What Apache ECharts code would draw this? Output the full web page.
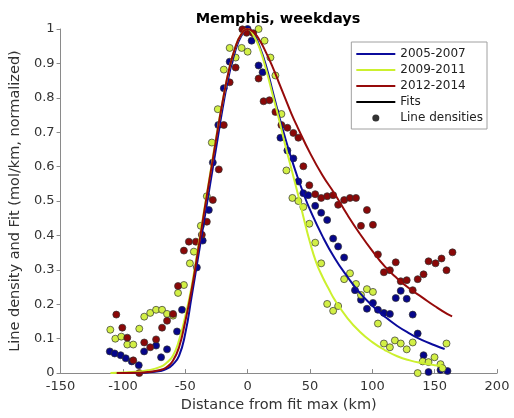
<!DOCTYPE html>
<html><head><meta charset="utf-8">
<script src="https://cdn.jsdelivr.net/npm/echarts@6/dist/echarts.min.js"></script>
<style>html,body{margin:0;padding:0;background:#fff}#c{width:514px;height:418px}</style>
</head><body><div id="c"></div>
<script>
// ---- data ----
const seriesNames = ['2005-2007', '2009-2011', '2012-2014'];

// line densities (distance km, normalized density)
const dens0507 = [[0,1.0],[3.2,0.966],[-14.4,0.905],[-19.1,0.828],[8.8,0.894],[12,0.874],[-23.5,0.721],[-27.9,0.612],[-31.1,0.474],[-36,0.385],[-40.7,0.307],[-52.6,0.184],[-56.6,0.121],[-64.6,0.069],[-69.4,0.046],[-73.4,0.08],[-83,0.063],[-110.5,0.063],[-106.6,0.057],[-101.8,0.052],[-97.7,0.043],[-92.9,0.034],[-87.3,0.023],[26.3,0.684],[31.9,0.647],[36.7,0.624],[40.7,0.557],[44.7,0.523],[48.6,0.517],[54.2,0.486],[59,0.466],[63.8,0.445],[68.6,0.391],[72.6,0.368],[77.4,0.336],[86.1,0.241],[90.9,0.213],[95.7,0.187],[100.5,0.204],[104.5,0.184],[109.3,0.175],[114.1,0.172],[122.8,0.239],[118.8,0.218],[127.6,0.216],[132.4,0.17],[136.4,0.115],[141.1,0.052],[145.1,0.003],[154.7,0.009],[160.3,0.006]];
const dens0911 = [[8.8,1.0],[13.6,0.966],[18.3,0.917],[22.3,0.865],[-14.4,0.945],[-4.8,0.945],[0,0.934],[-9.6,0.917],[-19.1,0.882],[-23.9,0.767],[27.1,0.753],[-28.7,0.67],[-32.7,0.514],[-37.5,0.428],[-43.1,0.353],[-46.3,0.319],[-51.1,0.256],[-55.8,0.233],[-110.1,0.126],[-106.1,0.1],[-101.3,0.106],[-96.5,0.083],[-91.7,0.083],[-86.9,0.129],[-82.9,0.164],[-78.1,0.175],[-73.4,0.184],[-68.6,0.184],[-64.6,0.172],[-59.8,0.167],[31.1,0.589],[35.9,0.509],[40.7,0.5],[44.7,0.483],[49.5,0.434],[54.2,0.379],[59,0.319],[63.8,0.201],[68.6,0.181],[72.6,0.195],[77.4,0.273],[82.1,0.29],[86.9,0.259],[90.9,0.227],[95.7,0.244],[100.5,0.236],[104.5,0.144],[109.3,0.086],[114.1,0.075],[118.1,0.095],[122.8,0.086],[127.6,0.069],[132.4,0.089],[159.5,0.086],[136.4,0.0],[140.4,0.034],[145.1,0.032],[149.9,0.046],[154.7,0.026],[156.3,0.014]];
const dens1214 = [[-4.2,0.999],[-0.8,0.989],[4.5,0.988],[-9.6,0.888],[8.8,0.856],[-14.4,0.845],[12.8,0.79],[17.5,0.793],[22.3,0.759],[-19.1,0.721],[27.1,0.721],[31.9,0.713],[36.7,0.698],[40.7,0.684],[-23.1,0.592],[-27.9,0.503],[-32.7,0.44],[-36.7,0.402],[-41.5,0.382],[-47.1,0.382],[-51.1,0.356],[-55.8,0.253],[-105.3,0.17],[-100.5,0.132],[-96.5,0.103],[-91.7,0.037],[-86.9,0.0],[-82.9,0.089],[-78.1,0.075],[-73.4,0.098],[-68.6,0.132],[-64.6,0.152],[-59.8,0.172],[44.7,0.601],[49.5,0.546],[54.2,0.52],[59,0.509],[63.8,0.514],[68.6,0.517],[72.6,0.489],[77.4,0.503],[82.1,0.509],[86.9,0.509],[95.7,0.474],[90.9,0.428],[100.5,0.431],[104.5,0.345],[118.8,0.322],[114.1,0.299],[109.3,0.293],[122.8,0.267],[127.6,0.27],[132.4,0.241],[136.4,0.273],[141.1,0.287],[145.1,0.325],[150.7,0.319],[155.5,0.333],[159.5,0.299],[164.3,0.351]];

// fit curves, values
const fit0507X = [-100,-90,-80,-70,-65,-60,-55,-50,-45,-40,-35,-30,-25,-20,-15,-10,-5,0,5,10,15,20,25,30,35,40,45,50,60,70,80,90,100,110,120,130,140,150,158];
const fit0507Y = [0,0.001,0.002,0.006,0.012,0.025,0.05,0.115,0.22,0.33,0.44,0.55,0.66,0.77,0.865,0.935,0.98,1.0,0.985,0.945,0.89,0.82,0.75,0.685,0.625,0.57,0.52,0.475,0.398,0.333,0.28,0.233,0.196,0.164,0.137,0.115,0.096,0.081,0.07];
const fit0911X = [-110,-100,-90,-80,-70,-65,-60,-55,-50,-45,-40,-35,-30,-25,-20,-15,-10,-5,0,5,10,15,20,25,30,35,40,45,50,55,60,65,70,80,90,100,110,120,130,140,150,157];
const fit0911Y = [0,0.002,0.004,0.008,0.018,0.03,0.05,0.095,0.165,0.25,0.36,0.47,0.58,0.69,0.79,0.88,0.945,0.985,1.0,0.98,0.94,0.88,0.81,0.74,0.665,0.595,0.525,0.45,0.38,0.322,0.28,0.245,0.212,0.16,0.12,0.09,0.067,0.049,0.037,0.029,0.023,0.02];
const fit1214X = [-105,-90,-80,-70,-65,-60,-55,-50,-45,-40,-35,-30,-25,-20,-15,-10,-5,0,5,10,15,20,25,30,35,40,50,60,70,80,90,100,110,120,130,140,150,160,164];
const fit1214Y = [0,0.001,0.003,0.009,0.017,0.035,0.075,0.15,0.24,0.35,0.465,0.575,0.685,0.79,0.88,0.945,0.985,1.0,0.99,0.965,0.93,0.89,0.845,0.8,0.755,0.715,0.64,0.575,0.52,0.46,0.405,0.355,0.31,0.275,0.245,0.22,0.195,0.172,0.165];

const xTickMin = -150, xTickMax = 200, xTickStep = 50;
const yTickMin = 0, yTickMax = 1, yTickStep = 0.1;

// ---- styling ----
const FONT = 'DejaVu Sans';
const lineColors = ['#0b0b9c', '#ccf02e', '#960a0a'];
const dotColors = ['#06068a', '#d2ef45', '#8a0808'];
const LINE_ICON = 'path://M0,0L39,0L39,2L0,2Z';
const zip = (xs, ys) => xs.map((x, i) => [x, ys[i]]);

const dens = [dens0507, dens0911, dens1214];
const fits = [zip(fit0507X, fit0507Y), zip(fit0911X, fit0911Y), zip(fit1214X, fit1214Y)];

const series = [];
seriesNames.forEach((n, i) => {
  series.push({
    name: n, type: 'line', data: fits[i], showSymbol: false, symbol: 'none',
    smooth: 0.5, z: 5 + i,
    lineStyle: { color: lineColors[i], width: 2 }, itemStyle: { color: lineColors[i] }
  });
});
seriesNames.forEach((n, i) => {
  series.push({
    name: n, type: 'scatter', data: dens[i], symbolSize: 7, z: 2 + i,
    itemStyle: { color: dotColors[i], borderColor: '#303030', borderWidth: 0.7, opacity: 1 }
  });
});
series.push({ name: 'Fits', type: 'line', data: [], symbol: 'none', lineStyle: { color: '#000', width: 2 }, itemStyle: { color: '#000' } });
series.push({ name: 'Line densities', type: 'scatter', data: [], symbolSize: 7, itemStyle: { color: '#000' } });

const chart = echarts.init(document.getElementById('c'), null, { renderer: 'canvas' });
chart.setOption({
  animation: false,
  backgroundColor: '#fff',
  textStyle: { fontFamily: FONT },
  title: {
    text: 'Memphis, weekdays', left: 278, textAlign: 'center', top: 12, padding: 0,
    textStyle: { fontFamily: FONT, fontSize: 14.5, fontWeight: 'bold', color: '#000' }
  },
  grid: { left: 59, right: 17, top: 29, bottom: 41, containLabel: false },
  legend: {
    orient: 'vertical', right: 27, top: 42,
    padding: [6, 4, 5, 5], itemGap: 4, itemWidth: 39, itemHeight: 7,
    borderColor: '#a0a0a0', borderWidth: 1, backgroundColor: '#fff',
    textStyle: { fontFamily: FONT, fontSize: 12, color: '#222', lineHeight: 12 },
    data: [
      { name: '2005-2007', icon: LINE_ICON, itemStyle: { color: lineColors[0] } },
      { name: '2009-2011', icon: LINE_ICON, itemStyle: { color: lineColors[1] } },
      { name: '2012-2014', icon: LINE_ICON, itemStyle: { color: lineColors[2] } },
      { name: 'Fits', icon: LINE_ICON, itemStyle: { color: '#000' } },
      { name: 'Line densities', icon: 'circle', itemStyle: { color: '#000' } }
    ]
  },
  xAxis: {
    type: 'value', min: xTickMin, max: xTickMax, interval: xTickStep,
    name: 'Distance from fit max (km)', nameLocation: 'middle', nameGap: 24,
    nameTextStyle: { fontFamily: FONT, fontSize: 14.5, color: '#333' },
    axisLine: { show: true, onZero: false, lineStyle: { color: '#8a8a8a', width: 1 } },
    axisTick: { show: true, inside: true, length: 4, lineStyle: { color: '#8a8a8a' } },
    axisLabel: { fontFamily: FONT, fontSize: 13, color: '#333', margin: 7 },
    splitLine: { show: false }
  },
  yAxis: {
    type: 'value', min: yTickMin, max: yTickMax, interval: yTickStep,
    name: 'Line density and Fit (mol/km, normalized)', nameLocation: 'middle', nameGap: 33,
    nameTextStyle: { fontFamily: FONT, fontSize: 14.5, color: '#333' },
    axisLine: { show: true, onZero: false, lineStyle: { color: '#8a8a8a', width: 1 } },
    axisTick: { show: true, inside: false, length: 4, lineStyle: { color: '#8a8a8a' } },
    axisLabel: { fontFamily: FONT, fontSize: 13, color: '#333', margin: 6 },
    splitLine: { show: false }
  },
  series: series
});
</script></body></html>
